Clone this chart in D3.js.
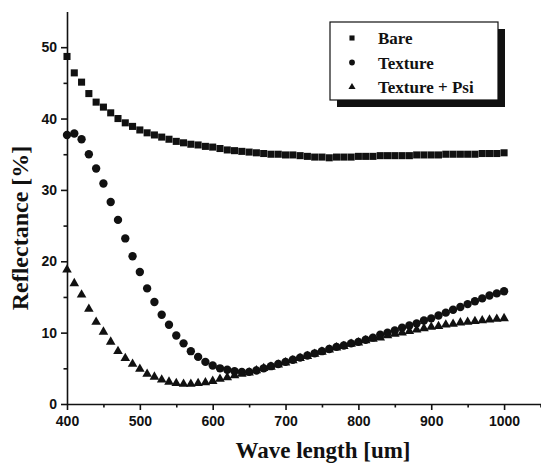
<!DOCTYPE html>
<html>
<head>
<meta charset="utf-8">
<script src="https://cdn.jsdelivr.net/npm/d3@7"></script>
<style>
  body { margin: 0; background: #fff; }
  svg { display: block; }
  .tick text { font-family: "Liberation Sans", Arial, sans-serif; font-weight: bold; font-size: 14px; fill: #111; }
  .title { font-family: "Liberation Serif", "Times New Roman", serif; font-weight: bold; fill: #111; }
</style>
</head>
<body>
<svg width="541" height="466"></svg>
<script>
const wavelength = [400,410,420,430,440,450,460,470,480,490,500,510,520,530,540,550,560,570,580,590,
  600,610,620,630,640,650,660,670,680,690,700,710,720,730,740,750,760,770,780,790,
  800,810,820,830,840,850,860,870,880,890,900,910,920,930,940,950,960,970,980,990,1000];

const bare = [48.7,46.4,45.1,43.5,42.3,41.6,40.8,40.0,39.4,38.9,38.4,38.0,37.7,37.4,37.1,36.8,36.6,36.4,36.3,36.1,
  36.0,35.8,35.6,35.5,35.4,35.3,35.2,35.1,35.0,35.0,34.9,34.9,34.8,34.7,34.6,34.6,34.5,34.6,34.6,34.6,
  34.7,34.7,34.7,34.8,34.8,34.8,34.8,34.8,34.9,34.9,34.9,34.9,35.0,35.0,35.0,35.0,35.0,35.1,35.1,35.1,35.2];

const texture = [37.7,37.9,37.1,35.0,33.0,30.9,28.3,25.8,23.2,20.7,18.5,16.2,14.3,12.5,11.1,9.6,8.5,7.4,6.6,5.9,
  5.4,5.0,4.8,4.6,4.5,4.5,4.7,5.0,5.3,5.6,5.9,6.2,6.5,6.8,7.1,7.4,7.7,8.0,8.2,8.5,
  8.7,9.0,9.3,9.7,10.0,10.3,10.7,11.0,11.3,11.7,12.0,12.4,12.8,13.2,13.6,14.0,14.4,14.8,15.2,15.5,15.8];

const texturePsi = [18.8,16.9,15.3,13.3,11.5,10.1,8.7,7.4,6.4,5.6,4.9,4.2,3.8,3.4,3.1,2.9,2.8,2.8,2.9,3.0,
  3.2,3.5,3.7,4.0,4.2,4.4,4.7,5.0,5.2,5.5,5.8,6.1,6.4,6.7,7.0,7.3,7.6,7.9,8.1,8.4,
  8.6,8.9,9.1,9.3,9.6,9.8,10.0,10.2,10.4,10.6,10.8,10.9,11.1,11.2,11.4,11.5,11.6,11.7,11.8,11.9,12.0];

const seriesNames = ["Bare", "Texture", "Texture + Psi"];
const xTicks = [400,500,600,700,800,900,1000];
const xMinor = [450,550,650,750,850,950,1050];
const yTicks = [0,10,20,30,40,50];
const yMinor = [5,15,25,35,45];

const svg = d3.select("svg");
const x = d3.scaleLinear().domain([400, 1050]).range([67, 540.5]);
const y = d3.scaleLinear().domain([0, 55]).range([404, 11.5]);

// axes
svg.append("g").attr("transform", "translate(0,404)")
  .call(d3.axisBottom(x).tickValues(xTicks).tickSize(6).tickSizeOuter(0).tickPadding(6).tickFormat(d3.format("d")));
svg.append("g").attr("transform", "translate(0,404)")
  .call(d3.axisBottom(x).tickValues(xMinor).tickSize(3.5).tickFormat("")).select(".domain").remove();
svg.append("g").attr("transform", "translate(67,0)")
  .call(d3.axisLeft(y).tickValues(yTicks).tickSize(6).tickSizeOuter(0).tickPadding(4));
svg.append("g").attr("transform", "translate(67,0)")
  .call(d3.axisLeft(y).tickValues(yMinor).tickSize(3.5).tickFormat("")).select(".domain").remove();
svg.selectAll(".domain, .tick line").attr("stroke", "#111").attr("stroke-width", 1.6);

// axis titles
svg.append("text").attr("class", "title")
  .attr("x", 323).attr("y", 458).attr("text-anchor", "middle")
  .style("font-size", "23px").text("Wave length [um]");
svg.append("text").attr("class", "title")
  .attr("transform", "translate(28,228) rotate(-90)").attr("text-anchor", "middle")
  .style("font-size", "24px").text("Reflectance [%]");

// markers
const symbols = [d3.symbolSquare, d3.symbolCircle, d3.symbolTriangle];
const sizes = [50, 55, 40];
const allSeries = [bare, texture, texturePsi];

allSeries.forEach((vals, s) => {
  svg.append("g").selectAll("path").data(wavelength).enter().append("path")
    .attr("transform", (d, i) => `translate(${x(d)},${y(vals[i])})`)
    .attr("d", d3.symbol().type(symbols[s]).size(sizes[s]))
    .attr("fill", "#111");
});

// legend
const legend = svg.append("g").attr("transform", "translate(330,22)");
legend.append("rect").attr("x", 7).attr("y", 7).attr("width", 168).attr("height", 78).attr("fill", "#111");
legend.append("rect").attr("x", 0).attr("y", 0).attr("width", 168).attr("height", 78)
  .attr("fill", "#fff").attr("stroke", "#111").attr("stroke-width", 1.2);
const legendSizes = [26, 26, 22];
seriesNames.forEach((name, i) => {
  const row = legend.append("g").attr("transform", `translate(0,${16 + i * 24.5})`);
  row.append("path").attr("transform", "translate(22,0)")
    .attr("d", d3.symbol().type(symbols[i]).size(legendSizes[i])).attr("fill", "#111");
  row.append("text").attr("class", "title").attr("x", 48).attr("y", 6)
    .style("font-size", "17px").text(name);
});
</script>
</body>
</html>
